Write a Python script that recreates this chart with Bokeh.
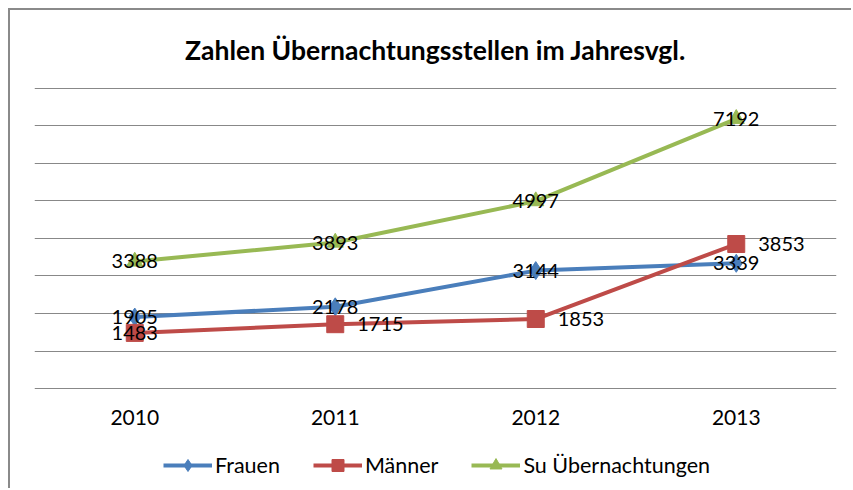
from bokeh.plotting import figure
from bokeh.models import (Legend, LegendItem, FactorRange, Range1d,
                          ColumnDataSource, FixedTicker)
from bokeh.core.properties import value
from bokeh.embed import file_html
from bokeh.resources import INLINE

# ---- data ----
years = ["2010", "2011", "2012", "2013"]
frauen = [1905, 2178, 3144, 3339]
maenner = [1483, 1715, 1853, 3853]
su = [3388, 3893, 4997, 7192]
title_text = "Zahlen Übernachtungsstellen im Jahresvgl."
series_names = ["Frauen", "Männer", "Su Übernachtungen"]
grid_ticks = [0, 1000, 2000, 3000, 4000, 5000, 6000, 7000, 8000]

# ---- styles ----
C_BLUE = "#4A7EBB"
C_RED = "#BE4B48"
C_GREEN = "#98B954"
FONT = "Lato"
GRID = "#888888"

p = figure(width=843, height=480, x_range=FactorRange(*years),
           y_range=Range1d(-2453, 8053), output_backend="svg",
           toolbar_location=None,
           min_border_left=24, min_border_right=17,
           min_border_top=76, min_border_bottom=10)
p.styles = {"margin": "8px 0 0 8px",
            "border-left": "2px solid #8a8a8a",
            "border-top": "2px solid #8a8a8a"}
p.outline_line_color = None
p.background_fill_color = "white"
p.border_fill_color = "white"

p.title.text = title_text
p.title.align = "center"
p.title.text_font = FONT
p.title.text_font_style = "bold"
p.title.text_font_size = "26.5px"
p.title.text_color = "#000000"
p.title.standoff = 42

p.yaxis.visible = False
p.xaxis.visible = False
p.ygrid.ticker = FixedTicker(ticks=grid_ticks)
p.ygrid.grid_line_color = GRID
p.ygrid.grid_line_width = 1
p.xgrid.visible = False

src = ColumnDataSource(dict(x=years, f=frauen, m=maenner, s=su,
                            base=[0] * len(years)))

# category labels under the baseline
p.text("x", "base", text="x", source=src, y_offset=29, text_align="center",
       text_baseline="middle", text_font=value(FONT), text_font_size="21px",
       text_color="#000000")

lf = p.line("x", "f", source=src, line_color=C_BLUE, line_width=4)
mf = p.scatter("x", "f", source=src, marker="diamond", size=18,
               fill_color=C_BLUE, line_color=C_BLUE)
lm = p.line("x", "m", source=src, line_color=C_RED, line_width=4)
mm = p.scatter("x", "m", source=src, marker="square", size=17,
               fill_color=C_RED, line_color=C_RED)
ls = p.line("x", "s", source=src, line_color=C_GREEN, line_width=4)
ms = p.scatter("x", "s", source=src, marker="triangle", size=16,
               fill_color=C_GREEN, line_color=C_GREEN)

def labels(vals, xoff, align):
    s = ColumnDataSource(dict(x=years, y=vals, t=[str(v) for v in vals],
                              xo=xoff, al=align))
    p.text("x", "y", text="t", source=s, x_offset="xo", text_align="al",
           text_baseline="middle", text_font=value(FONT),
           text_font_size="20px", text_color="#000000")

labels(frauen, [0, 0, 0, 0], ["center"] * 4)
labels(maenner, [0, 22, 22, 22], ["center", "left", "left", "left"])
labels(su, [0, 0, 0, 0], ["center"] * 4)

legend = Legend(items=[LegendItem(label=series_names[0], renderers=[lf, mf]),
                       LegendItem(label=series_names[1], renderers=[lm, mm]),
                       LegendItem(label=series_names[2], renderers=[ls, ms])],
                location=(129, 0), orientation="horizontal",
                padding=0, margin=0, spacing=33, label_standoff=3,
                glyph_width=49, glyph_height=30, label_height=30,
                border_line_color=None, background_fill_alpha=0,
                label_text_font=FONT, label_text_font_size="21.5px",
                label_text_color="#000000")
p.add_layout(legend, "center")

open("out.html", "w").write(file_html(p, INLINE))
